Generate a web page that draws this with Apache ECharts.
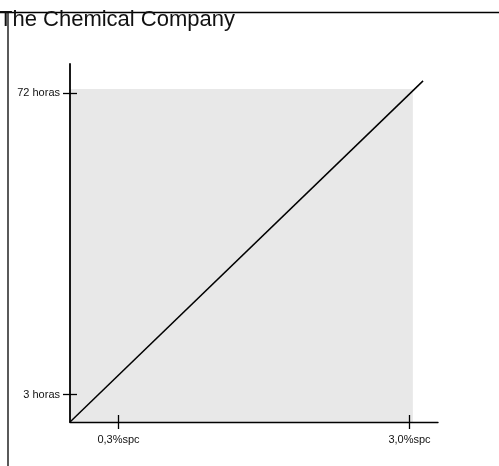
<!DOCTYPE html>
<html>
<head>
<meta charset="utf-8">
<script src="https://cdn.jsdelivr.net/npm/echarts@6/dist/echarts.min.js"></script>
<style>
html, body { margin: 0; padding: 0; background: #fff; }
#chart { width: 499px; height: 466px; }
</style>
</head>
<body>
<div id="chart"></div>
<script>
// schematic axes: positions in arbitrary units, labels
var xTickPos = [1, 7];
var xTickLabels = ['0,3%spc', '3,0%spc'];
var yTickPos = [1, 12];
var yTickLabels = ['3 horas', '72 horas'];

// the straight line from the origin to the upper right
var lineX = [0, 7.28];
var lineY = [0, 12.45];

// shaded region
var areaX = [0, 7.07];
var areaY = [0, 12.15];

function labelFor(pos, ticks, labels) {
    for (var i = 0; i < ticks.length; i++) {
        if (Math.abs(ticks[i] - pos) < 1e-6) return labels[i];
    }
    return '';
}

var dom = document.getElementById('chart');
var myChart = echarts.init(dom);

var lineData = [];
for (var i = 0; i < lineX.length; i++) {
    lineData.push([lineX[i], lineY[i]]);
}

var axisFont = { fontFamily: 'Liberation Sans, Arial, sans-serif', fontSize: 11, color: '#111' };

var option = {
    animation: false,
    title: {
        text: 'The Chemical Company',
        left: -1,
        top: 9,
        padding: 0,
        textStyle: { fontFamily: 'Liberation Sans, Arial, sans-serif', fontSize: 22, fontWeight: 'normal', color: '#111' }
    },
    graphic: [
        { type: 'line', shape: { x1: 0, y1: 12.5, x2: 499, y2: 12.5 }, style: { stroke: '#000', lineWidth: 1.3 } },
        { type: 'line', shape: { x1: 8, y1: 12, x2: 8, y2: 466 }, style: { stroke: '#000', lineWidth: 1.3 } }
    ],
    grid: { left: 70, top: 64, right: 61, bottom: 44, containLabel: false },
    xAxis: [
        {
            type: 'value',
            min: 0,
            max: 7.588,
            z: 10,
            splitLine: { show: false },
            axisLine: { show: true, onZero: false, lineStyle: { color: '#000', width: 1.4 } },
            axisTick: { show: true, customValues: xTickPos, length: 7, lineStyle: { color: '#000', width: 1.3 } },
            axisLabel: {
                customValues: xTickPos,
                margin: 12,
                formatter: function (v) { return labelFor(v, xTickPos, xTickLabels); },
                fontFamily: axisFont.fontFamily, fontSize: axisFont.fontSize, color: axisFont.color
            }
        },
        {
            type: 'value',
            position: 'bottom',
            min: 0,
            max: 7.588,
            z: 10,
            splitLine: { show: false },
            axisLine: { show: false },
            axisTick: { show: true, inside: true, customValues: xTickPos, length: 7, lineStyle: { color: '#000', width: 1.3 } },
            axisLabel: { show: false }
        }
    ],
    yAxis: [
        {
            type: 'value',
            min: 0,
            max: 13.065,
            z: 10,
            splitLine: { show: false },
            axisLine: { show: true, onZero: false, lineStyle: { color: '#000', width: 1.8 } },
            axisTick: { show: true, customValues: yTickPos, length: 7, lineStyle: { color: '#000', width: 1.3 } },
            axisLabel: {
                customValues: yTickPos,
                margin: 10,
                formatter: function (v) { return labelFor(v, yTickPos, yTickLabels); },
                fontFamily: axisFont.fontFamily, fontSize: axisFont.fontSize, color: axisFont.color
            }
        },
        {
            type: 'value',
            position: 'left',
            offset: 0,
            min: 0,
            max: 13.065,
            z: 10,
            splitLine: { show: false },
            axisLine: { show: false },
            axisTick: { show: true, inside: true, customValues: yTickPos, length: 7, lineStyle: { color: '#000', width: 1.3 } },
            axisLabel: { show: false }
        }
    ],
    series: [
        {
            type: 'line',
            data: lineData,
            symbol: 'none',
            z: 5,
            lineStyle: { color: '#000', width: 1.5 },
            markArea: {
                silent: true,
                itemStyle: { color: '#e8e8e8' },
                data: [[{ coord: [areaX[0], areaY[0]] }, { coord: [areaX[1], areaY[1]] }]]
            }
        }
    ]
};

myChart.setOption(option, true);
</script>
</body>
</html>
